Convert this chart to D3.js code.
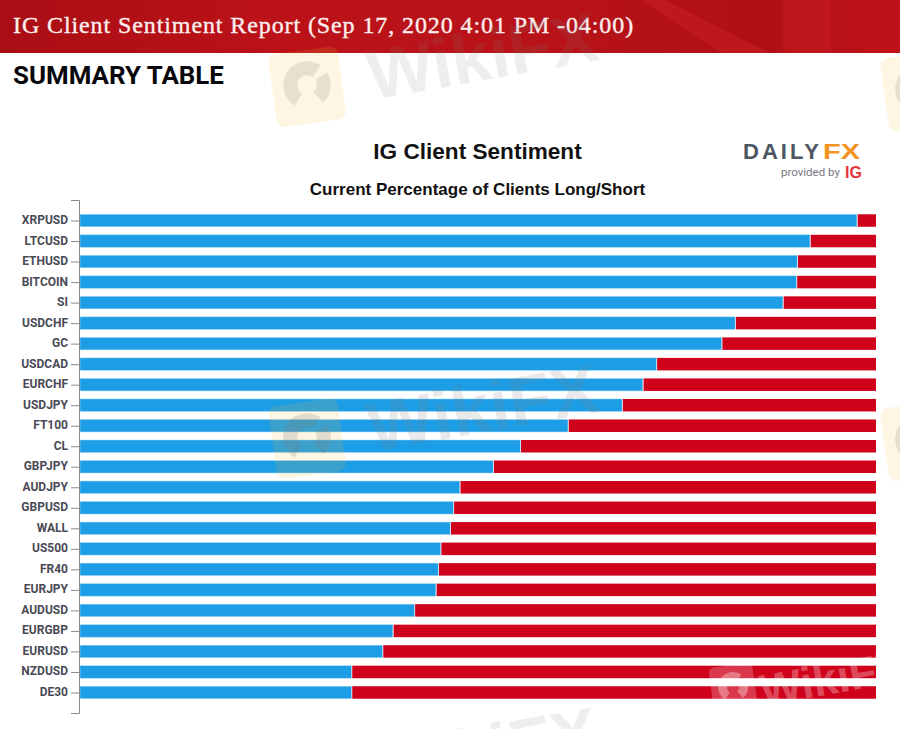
<!DOCTYPE html>
<html>
<head>
<meta charset="utf-8">
<script src="https://cdn.jsdelivr.net/npm/d3@7"></script>
<style>
  html, body { margin: 0; padding: 0; background: #fff; overflow: hidden; }
  svg { display: block; }
  .tick text { font-family: Roboto, sans-serif; font-weight: 700; font-size: 12px; fill: #4a4a55; }
  .domain, .tick line { stroke: #8a8a8a; stroke-width: 1; }
</style>
</head>
<body>
<svg id="chart" width="900" height="729"></svg>
<script>
// values
const categories = ['XRPUSD', 'LTCUSD', 'ETHUSD', 'BITCOIN', 'SI', 'USDCHF', 'GC', 'USDCAD', 'EURCHF', 'USDJPY', 'FT100', 'CL',
    'GBPJPY', 'AUDJPY', 'GBPUSD', 'WALL', 'US500', 'FR40', 'EURJPY', 'AUDUSD', 'EURGBP', 'EURUSD', 'NZDUSD', 'DE30'];
const longPct = [97.6, 91.7, 90.1, 90.0, 88.3, 82.3, 80.6, 72.4, 70.7, 68.1, 61.3, 55.3,
    51.9, 47.7, 46.9, 46.5, 45.3, 45.0, 44.7, 42.0, 39.3, 38.0, 34.1, 34.1];
const shortPct = longPct.map(d => +(100 - d).toFixed(1));

const svg = d3.select('#chart');

// header band
const defs = svg.append('defs');
const headerGrad = defs.append('linearGradient').attr('id', 'header-grad');
headerGrad.append('stop').attr('offset', '0%').attr('stop-color', '#a90e14');
headerGrad.append('stop').attr('offset', '30%').attr('stop-color', '#bb1218');
headerGrad.append('stop').attr('offset', '60%').attr('stop-color', '#b81319');
headerGrad.append('stop').attr('offset', '85%').attr('stop-color', '#b01015');
headerGrad.append('stop').attr('offset', '100%').attr('stop-color', '#bf1218');

svg.append('rect')
    .attr('width', 900).attr('height', 53)
    .attr('fill', 'url(#header-grad)');

// lighter streaks in the header photo
svg.append('rect')
    .attr('x', 783).attr('width', 48).attr('height', 53)
    .attr('fill', '#d92a2a').attr('opacity', 0.25);
svg.append('path')
    .attr('d', d3.line()([[640, 0], [665, 0], [770, 53], [722, 53]]))
    .attr('fill', '#d92a2a').attr('opacity', 0.3);

// faint watermarks, drawn last so they lie over the bars
function watermark(lx, ly, size, tx, ty, fill, fillOpacity) {
    const g = svg.append('g').attr('pointer-events', 'none');
    g.append('rect')
        .attr('x', lx).attr('y', ly)
        .attr('width', size).attr('height', size * 1.05)
        .attr('rx', size * 0.12)
        .attr('transform', `rotate(-8 ${lx + size / 2} ${ly + size / 2})`)
        .attr('fill', fill === '#fff' ? '#fff' : '#f6c233')
        .attr('opacity', fill === '#fff' ? 0.22 : 0.14);
    // swoosh of the eagle
    const arc = d3.arc().innerRadius(size * 0.14).outerRadius(size * 0.34);
    const cx = lx + size / 2, cy = ly + size / 2;
    g.append('path').attr('transform', `translate(${cx},${cy})`)
        .attr('d', arc({ startAngle: -2.6, endAngle: 0.6 }))
        .attr('fill', fill).attr('opacity', fillOpacity + 0.05);
    g.append('path').attr('transform', `translate(${cx},${cy})`)
        .attr('d', arc({ startAngle: 1.0, endAngle: 2.4 }))
        .attr('fill', fill).attr('opacity', fillOpacity + 0.05);
    if (tx !== null) {
        g.append('text')
            .attr('transform', `translate(${tx},${ty}) rotate(-10)`)
            .attr('font-family', '"Liberation Sans", Arial, sans-serif')
            .attr('font-weight', 700)
            .attr('font-size', size)
            .attr('fill', fill)
            .attr('opacity', fillOpacity)
            .text('WikiFX');
    }
}

svg.append('text')
    .attr('x', 13).attr('y', 33)
    .attr('font-family', '"Liberation Serif", serif')
    .attr('font-size', 24)
    .attr('letter-spacing', 0.9)
    .attr('fill', '#fbeeee')
    .attr('stroke', '#fbeeee')
    .attr('stroke-width', 0.35)
    .text('IG Client Sentiment Report (Sep 17, 2020 4:01 PM -04:00)');

svg.append('text')
    .attr('x', 13).attr('y', 84)
    .attr('font-family', 'Roboto, sans-serif')
    .attr('font-weight', 700)
    .attr('font-size', 25.9)
    .attr('fill', '#08080c')
    .text('SUMMARY TABLE');

// titles
svg.append('text')
    .attr('x', 477.5).attr('y', 159)
    .attr('text-anchor', 'middle')
    .attr('font-family', '"Liberation Sans", Arial, sans-serif')
    .attr('font-weight', 700)
    .attr('font-size', 22.6)
    .attr('fill', '#111')
    .text('IG Client Sentiment');

svg.append('text')
    .attr('x', 477.5).attr('y', 195)
    .attr('text-anchor', 'middle')
    .attr('font-family', '"Liberation Sans", Arial, sans-serif')
    .attr('font-weight', 700)
    .attr('font-size', 17)
    .attr('fill', '#111')
    .text('Current Percentage of Clients Long/Short');

// logo
svg.append('text')
    .attr('x', 743).attr('y', 159)
    .attr('font-family', '"Liberation Sans", Arial, sans-serif')
    .attr('font-weight', 700)
    .attr('font-size', 22)
    .attr('textLength', 76)
    .attr('fill', '#4c5560')
    .text('DAILY');
svg.append('text')
    .attr('x', 823).attr('y', 159)
    .attr('font-family', '"Liberation Sans", Arial, sans-serif')
    .attr('font-weight', 700)
    .attr('font-size', 22)
    .attr('textLength', 37)
    .attr('lengthAdjust', 'spacingAndGlyphs')
    .attr('fill', '#f29322')
    .text('FX');
svg.append('text')
    .attr('x', 781).attr('y', 176)
    .attr('font-family', 'Roboto, sans-serif')
    .attr('font-size', 11.5)
    .attr('fill', '#77777f')
    .text('provided by');
svg.append('text')
    .attr('x', 845).attr('y', 178)
    .attr('font-family', '"Liberation Sans", Arial, sans-serif')
    .attr('font-weight', 700)
    .attr('font-size', 16)
    .attr('fill', '#e5343b')
    .text('IG');

// chart
const x = d3.scaleLinear().domain([0, 100]).range([80, 876]);
const y = d3.scalePoint().domain(categories).range([200, 713]).padding(1);
const barHeight = 12.5;

const rows = categories.map((name, i) => ({ name, long: longPct[i], short: shortPct[i] }));

svg.append('g').selectAll('rect.long')
    .data(rows)
    .join('rect')
    .attr('class', 'long')
    .attr('x', x(0))
    .attr('y', d => y(d.name) - barHeight / 2)
    .attr('width', d => x(d.long) - x(0))
    .attr('height', barHeight)
    .attr('fill', '#1c9de6')
    .attr('stroke', '#a8daf6')
    .attr('stroke-width', 0.5);

svg.append('g').selectAll('rect.short')
    .data(rows)
    .join('rect')
    .attr('class', 'short')
    .attr('x', d => x(100 - d.short) + 0.8)
    .attr('y', d => y(d.name) - barHeight / 2)
    .attr('width', d => x(d.short) - x(0) - 0.8)
    .attr('height', barHeight)
    .attr('fill', '#d0021b');

const yAxis = svg.append('g')
    .attr('transform', `translate(${x(0) - 1},0)`)
    .call(d3.axisLeft(y).tickSize(8).tickPadding(3));
yAxis.selectAll('.tick text').attr('dy', '0.25em');

watermark(272, 402, 70, 372, 452, '#808080', 0.17);
watermark(272, 50, 70, 372, 100, '#808080', 0.13);
watermark(884, 54, 70, null, null, '#808080', 0.13);
watermark(884, 404, 70, null, null, '#808080', 0.15);
watermark(711, 665, 44, 763, 706, '#fff', 0.28);
watermark(272, 745, 70, 372, 795, '#808080', 0.13);
</script>
</body>
</html>
